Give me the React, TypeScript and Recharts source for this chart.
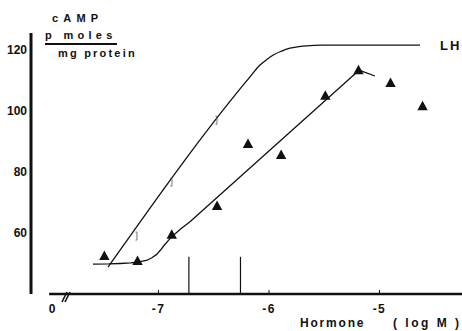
import React from "react";
import {
  ComposedChart,
  Line,
  Scatter,
  XAxis,
  YAxis,
  ReferenceLine,
} from "recharts";

// Hormone concentration (log M) and cAMP (pmoles / mg protein)
const triX = [-7.49, -7.19, -6.88, -6.47, -6.19, -5.89, -5.49, -5.19, -4.9, -4.61];
const triY = [52.5, 50.8, 59.4, 68.9, 89.2, 85.6, 105, 113.4, 109.2, 101.6];

// LH curve (upper, plateau)
const lhX = [-7.457, -6.172, -6.081, -6.02, -5.961, -5.89, -5.81, -5.73, -5.659, -5.523, -4.634];
const lhY = [48.8, 111.2, 115.1, 116.9, 118.4, 119.6, 120.6, 121.1, 121.4, 121.6, 121.6];

// small error marks on the LH curve
const lhMarkX = [-7.195, -6.878, -6.471];
const lhMarkY = [59.0, 76.7, 97.0];

// fitted curve through the triangles
const fitX = [
  -7.593, -7.45, -7.348, -7.25, -7.167, -7.11, -7.06, -7.016, -6.98, -6.95,
  -6.91, -6.88, -6.8, -6.715, -5.185, -5.041,
];
const fitY = [
  49.8, 49.85, 50.0, 50.2, 50.6, 51.0, 51.9, 53.0, 54.5, 55.9,
  57.6, 58.8, 61.3, 63.7, 113.4, 111.5,
];

// arrows pointing at the axis
const arrowX = [-6.725, -6.258];

const xTicks = [-7.964, -7, -6, -5];
const xTickLabels = ["0", "-7", "-6", "-5"];
const yTicks = [60, 80, 100, 120];

const ink = "#111";
const font = "'Liberation Sans', Arial, sans-serif";

const triData = triX.map((x, i) => ({ x, y: triY[i] }));
const lhData = lhX.map((x, i) => ({ x, y: lhY[i] }));
const lhMarks = lhMarkX.map((x, i) => ({ x, y: lhMarkY[i] }));
const fitData = fitX.map((x, i) => ({ x, y: fitY[i] }));

function Triangle(props: any) {
  const { cx, cy } = props;
  return (
    <polygon
      points={`${cx},${cy - 5.5} ${cx - 5.2},${cy + 4} ${cx + 5.2},${cy + 4}`}
      fill={ink}
    />
  );
}

function Mark(props: any) {
  const { cx, cy } = props;
  return (
    <path
      d={`M${cx - 1.5},${cy - 4} H${cx} V${cy + 4} H${cx - 1.5}`}
      fill="none"
      stroke="#555"
      strokeWidth={0.8}
    />
  );
}

function XTick(props: any) {
  const { x, y, index } = props;
  const label = xTickLabels[index] ?? "";
  const axisY = y - 8;
  return (
    <g>
      {index === 0 ? (
        <g stroke={ink} strokeWidth={1.6}>
          <line x1={x + 10} y1={axisY + 8} x2={x + 15} y2={axisY - 2} />
          <line x1={x + 13} y1={axisY + 8} x2={x + 18} y2={axisY - 2} />
        </g>
      ) : (
        <line x1={x} y1={axisY} x2={x} y2={axisY - 4} stroke={ink} strokeWidth={1} />
      )}
      <text
        x={x}
        y={y + 11}
        textAnchor="middle"
        fontFamily={font}
        fontWeight="bold"
        fontSize={12}
        letterSpacing={label.length > 1 ? 1.5 : 0}
        fill={ink}
      >
        {label}
      </text>
    </g>
  );
}

export default function App() {
  const textStyle: React.CSSProperties = {
    position: "absolute",
    fontFamily: font,
    fontWeight: "bold",
    color: ink,
    whiteSpace: "pre",
    lineHeight: 1,
  };
  return (
    <div
      style={{
        position: "absolute",
        left: 0,
        top: 0,
        width: 462,
        height: 331,
        background: "#fff",
      }}
    >
      <ComposedChart
        width={462}
        height={331}
        margin={{ top: 33, right: 0, bottom: 0, left: 0 }}
      >
        <XAxis
          type="number"
          dataKey="x"
          domain={[-8.154, -4.253]}
          ticks={xTicks}
          tick={<XTick />}
          tickLine={false}
          axisLine={false}
          height={37}
          allowDataOverflow
          interval={0}
        />
        <YAxis
          type="number"
          domain={[40, 125.6]}
          ticks={yTicks}
          width={31}
          tickSize={4}
          tickMargin={0}
          tickLine={false}
          axisLine={{ stroke: ink, strokeWidth: 3 }}
          tick={{
            fill: ink,
            fontSize: 12,
            fontWeight: "bold",
            fontFamily: font,
          }}
          allowDataOverflow
        />
        <ReferenceLine
          segment={[
            { x: -7.99, y: 40 },
            { x: -4.253, y: 40 },
          ]}
          stroke={ink}
          strokeWidth={2.5}
          ifOverflow="visible"
        />
        {arrowX.map((ax) => (
          <ReferenceLine
            key={ax}
            segment={[
              { x: ax, y: 52.2 },
              { x: ax, y: 40 },
            ]}
            stroke={ink}
            strokeWidth={1.2}
            ifOverflow="visible"
          />
        ))}
        <Line
          data={lhData}
          dataKey="y"
          type="monotone"
          stroke={ink}
          strokeWidth={1.3}
          dot={false}
          isAnimationActive={false}
        />
        <Line
          data={fitData}
          dataKey="y"
          type="linear"
          stroke={ink}
          strokeWidth={1.3}
          strokeLinejoin="round"
          dot={false}
          isAnimationActive={false}
        />
        <Scatter
          data={lhMarks}
          dataKey="y"
          shape={<Mark />}
          isAnimationActive={false}
        />
        <Scatter
          data={triData}
          dataKey="y"
          shape={<Triangle />}
          isAnimationActive={false}
        />
      </ComposedChart>
      <div style={{ ...textStyle, left: 52, top: 13, fontSize: 11, letterSpacing: 5.2 }}>
        cAMP
      </div>
      <div style={{ ...textStyle, left: 45, top: 30, fontSize: 11, letterSpacing: 4.3 }}>
        p moles
      </div>
      <div
        style={{
          position: "absolute",
          left: 45,
          top: 43,
          width: 72,
          height: 1.5,
          background: ink,
        }}
      />
      <div style={{ ...textStyle, left: 58, top: 48, fontSize: 11, letterSpacing: 2.2 }}>
        mg protein
      </div>
      <div style={{ ...textStyle, left: 440, top: 39, fontSize: 13, letterSpacing: 2 }}>
        LH
      </div>
      <div style={{ ...textStyle, left: 300, top: 317, fontSize: 12, letterSpacing: 1.8 }}>
        Hormone
      </div>
      <div style={{ ...textStyle, left: 393, top: 317, fontSize: 12, letterSpacing: 2.5 }}>
        ( log M )
      </div>
    </div>
  );
}
